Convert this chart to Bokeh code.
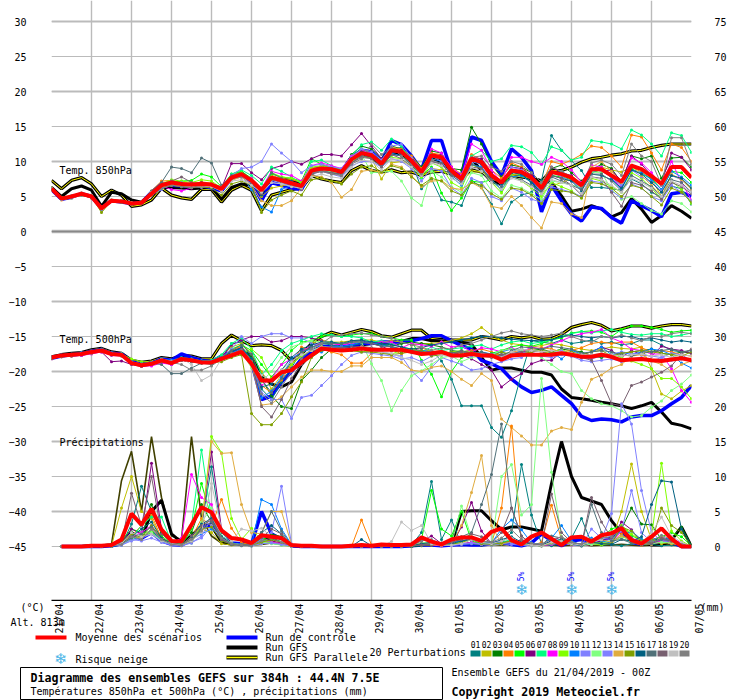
from math import pi
from bokeh.plotting import figure
from bokeh.models import Range1d, LinearAxis, FixedTicker, Label
from bokeh.core.properties import value
from bokeh.embed import file_html
from bokeh.resources import INLINE

dates = ["21/04","22/04","23/04","24/04","25/04","26/04","27/04","28/04","29/04","30/04","01/05","02/05","03/05","04/05","05/05","06/05","07/05"]
colors = ["#008080","#BFBF00","#008000","#FF8000","#00FF00","#800080","#00FF80","#FF00FF","#80FF00","#0080FF",
          "#8080FF","#80FF80","#8080FF","#E0AC40","#80A000","#006080","#507078","#786070","#C0C0C0","#808080"]

# 850 hPa, tenths of a degree, one value per 6 h
t_mean = [61,47,50,54,50,33,44,43,40,41,54,66,70,68,67,68,67,61,77,82,73,59,77,73,69,65,87,90,89,85,103,112,109,97,116,114,101,85,109,106,87,75,104,99,80,70,87,85,77,62,85,82,77,66,89,89,80,71,94,89,79,68,92,92,77]
t_ctrl = [60,46,49,54,50,33,44,42,40,41,56,68,66,65,64,66,62,58,76,84,70,44,70,66,62,60,88,92,90,86,106,116,114,100,130,124,108,88,130,130,85,80,135,130,100,80,118,106,87,28,66,44,25,15,35,33,20,12,44,37,30,21,54,56,50]
t_gfs = [63,50,61,65,59,36,56,54,45,42,54,63,63,62,61,62,63,46,63,68,66,52,75,75,73,68,87,92,90,86,102,110,106,95,112,110,98,84,105,100,85,78,104,87,71,68,87,85,75,73,70,51,29,32,37,32,21,27,47,32,13,23,37,29,19]
t_para = [73,61,73,77,68,50,59,52,36,38,45,62,52,48,46,60,60,42,59,66,59,30,52,56,60,62,80,75,72,70,87,94,87,85,88,84,85,80,85,86,82,78,88,85,75,70,80,78,76,72,87,87,92,99,104,106,109,111,115,116,120,123,125,125,125]
t_perts = [
 [60,46,49,53,49,32,43,42,39,41,55,68,72,70,66,69,68,62,80,85,74,57,76,72,68,62,86,93,88,84,102,115,112,100,118,120,100,61,75,45,42,37,73,63,39,11,42,52,56,73,137,116,101,87,63,63,61,59,75,68,56,49,65,61,39],
 [62,48,50,55,51,31,45,44,40,40,56,65,68,67,66,67,66,58,75,80,72,50,62,65,68,66,85,88,85,82,100,108,105,75,98,100,95,78,90,88,90,72,85,85,78,72,82,80,75,55,65,70,75,70,90,92,88,85,92,85,75,50,80,75,62],
 [61,47,50,54,50,33,44,43,41,42,53,67,71,69,68,70,67,60,78,84,75,56,78,70,70,66,88,92,92,88,110,122,118,104,122,118,108,92,115,112,90,88,149,125,95,78,95,92,84,70,90,95,84,72,88,96,90,70,108,104,108,76,105,106,92],
 [60,45,48,52,48,32,44,43,40,42,58,72,73,70,68,71,69,62,80,84,72,62,80,76,74,70,90,94,92,88,106,116,112,96,120,118,108,90,112,110,92,82,110,102,88,76,98,92,80,66,100,96,102,110,122,120,108,92,138,135,112,88,125,120,100],
 [61,47,51,54,50,35,44,44,41,41,56,66,69,72,73,82,78,64,82,86,76,62,82,78,76,72,104,96,92,88,108,118,112,100,118,112,95,80,92,55,30,48,72,70,74,58,86,80,70,54,80,78,74,62,84,88,78,66,90,82,76,60,86,84,70],
 [62,48,51,55,50,34,45,43,40,42,56,68,71,69,67,70,68,62,97,97,84,74,90,94,100,96,104,110,110,108,124,140,122,104,118,116,104,84,106,110,92,72,106,104,84,68,92,90,80,64,92,84,80,64,90,86,88,72,108,96,80,70,112,106,88],
 [60,46,50,53,49,33,44,42,40,42,54,64,68,66,66,66,68,62,82,88,80,68,92,86,78,68,100,102,94,88,108,124,128,116,132,122,100,76,110,108,88,72,108,116,100,104,123,121,113,96,121,116,102,106,130,128,125,118,145,138,125,108,141,137,113],
 [60,47,49,53,50,34,43,43,39,40,54,65,60,58,62,67,66,60,76,80,76,62,86,82,80,72,94,98,94,90,108,116,112,98,114,112,100,84,118,112,92,80,125,116,88,70,106,106,100,96,106,100,88,70,95,92,76,64,105,98,84,66,100,70,45],
 [61,46,48,52,49,32,43,44,41,42,56,68,74,72,70,74,72,62,80,84,74,60,84,78,76,70,92,94,90,85,104,112,108,92,106,104,92,78,98,92,70,62,95,90,70,55,80,72,62,50,70,64,58,48,76,72,64,56,84,76,62,46,72,60,40],
 [62,47,50,54,50,33,44,44,40,40,55,66,70,68,66,67,66,58,78,80,60,35,28,60,66,62,84,88,84,82,102,112,108,96,112,108,96,82,104,100,78,66,96,92,74,60,78,80,70,58,82,86,76,60,84,90,76,60,88,84,74,60,86,78,66],
 [60,46,49,53,49,32,44,43,40,41,53,62,72,68,66,68,66,62,80,90,92,100,125,112,100,84,94,96,92,90,106,118,114,102,122,125,105,88,108,100,80,70,100,96,80,66,92,88,76,54,85,78,72,62,92,86,78,66,88,78,70,58,80,74,60],
 [59,46,48,52,49,33,43,42,39,41,56,66,69,66,66,66,65,60,76,82,72,58,78,74,70,66,86,88,85,84,100,110,84,85,86,72,48,37,86,78,64,56,84,80,58,48,66,62,54,46,72,70,66,64,85,84,60,46,50,40,30,25,44,40,28],
 [61,46,48,52,49,31,44,43,40,41,52,60,68,70,64,63,64,60,74,78,68,54,70,68,66,60,82,86,82,78,94,100,100,92,104,100,90,72,90,86,62,52,76,70,50,44,62,56,46,42,64,60,56,50,72,70,58,48,68,62,50,44,66,56,44],
 [61,47,50,53,50,33,45,44,41,41,52,64,66,65,63,66,64,58,73,78,66,44,37,37,44,62,80,78,70,49,60,86,88,84,96,92,80,64,72,73,62,60,70,62,36,33,50,37,20,5,42,40,25,20,92,100,86,70,95,80,66,50,82,74,60],
 [63,49,50,54,50,27,44,43,39,40,52,62,66,64,63,64,62,52,68,72,66,27,45,52,58,52,74,76,72,68,82,92,94,85,94,90,78,66,76,72,58,52,70,66,54,46,62,60,52,40,60,58,56,48,70,68,62,50,66,62,50,38,62,56,42],
 [61,47,50,54,50,34,44,43,40,41,55,66,70,69,67,68,66,60,76,82,70,52,76,74,72,66,86,90,90,86,104,114,110,98,114,112,100,86,108,104,84,74,102,96,78,68,84,82,70,56,80,76,72,58,82,80,74,62,88,82,70,56,80,76,62],
 [60,47,49,52,48,33,43,44,40,42,58,70,92,90,84,105,98,66,80,82,74,60,84,76,70,62,84,86,84,82,98,108,106,94,110,108,94,82,100,98,80,70,96,90,72,64,78,74,66,56,78,72,66,60,82,82,72,58,80,72,64,50,74,70,56],
 [61,47,50,53,49,32,44,42,39,40,54,64,72,78,70,68,64,58,76,80,70,54,74,70,66,60,82,86,84,80,98,106,104,92,110,104,92,80,100,96,82,72,92,90,74,72,86,84,74,60,80,76,66,52,78,76,56,36,70,66,58,46,70,64,54],
 [62,48,51,55,51,34,45,44,41,42,56,64,68,66,64,65,64,58,72,74,66,56,70,68,64,62,78,82,78,76,92,102,100,88,104,102,92,80,98,94,76,68,92,86,70,60,76,72,64,54,74,70,66,54,78,74,66,56,76,70,62,50,72,66,56],
 [61,47,50,54,51,34,44,43,40,41,54,62,66,64,63,66,68,64,76,78,72,60,74,72,68,64,84,86,82,80,96,104,125,110,120,108,96,82,102,106,86,78,106,108,92,86,100,96,84,70,92,86,78,64,98,102,96,80,125,108,100,66,134,134,96],
]

# 500 hPa, tenths of a degree
m_mean = [-180,-177,-176,-175,-172,-170,-175,-176,-188,-191,-189,-184,-188,-182,-184,-187,-187,-182,-177,-172,-189,-213,-213,-201,-198,-187,-177,-167,-169,-170,-169,-167,-169,-169,-169,-169,-172,-175,-174,-172,-177,-177,-175,-177,-177,-183,-177,-176,-176,-176,-176,-174,-176,-179,-179,-176,-179,-184,-183,-182,-184,-185,-183,-181,-184]
m_ctrl = [-181,-178,-176,-175,-171,-169,-174,-175,-186,-190,-188,-182,-184,-175,-180,-184,-186,-178,-172,-168,-186,-240,-235,-215,-200,-182,-172,-164,-165,-165,-163,-160,-160,-158,-158,-158,-156,-153,-149,-149,-156,-163,-168,-184,-189,-196,-211,-222,-230,-227,-222,-234,-246,-264,-270,-268,-269,-272,-265,-263,-263,-256,-246,-237,-220]
m_gfs = [-180,-177,-175,-174,-171,-169,-174,-176,-187,-190,-188,-183,-186,-181,-183,-186,-186,-180,-175,-170,-178,-205,-218,-222,-215,-190,-174,-165,-166,-166,-164,-162,-160,-160,-158,-157,-153,-153,-156,-156,-157,-158,-161,-180,-198,-195,-195,-198,-201,-201,-205,-225,-237,-239,-241,-244,-246,-249,-253,-249,-244,-258,-274,-277,-282]
m_para = [-179,-176,-174,-173,-169,-167,-172,-174,-184,-187,-185,-180,-182,-177,-178,-182,-182,-160,-148,-156,-163,-162,-163,-170,-185,-175,-160,-150,-144,-148,-144,-140,-143,-149,-151,-146,-141,-141,-153,-151,-155,-155,-155,-150,-152,-155,-150,-152,-150,-154,-153,-147,-137,-133,-130,-134,-142,-139,-135,-135,-138,-135,-133,-133,-135]
m_perts = [
 [-180,-178,-176,-174,-172,-171,-175,-174,-186,-190,-190,-183,-186,-181,-183,-186,-188,-180,-160,-158,-180,-225,-240,-215,-195,-170,-165,-160,-162,-165,-163,-160,-158,-162,-160,-165,-170,-172,-170,-185,-211,-249,-249,-249,-280,-294,-256,-203,-156,-158,-160,-155,-160,-158,-155,-160,-158,-162,-160,-155,-155,-162,-170,-172,-170],
 [-181,-177,-176,-175,-172,-171,-174,-176,-187,-189,-188,-184,-186,-182,-184,-186,-186,-178,-165,-160,-175,-200,-225,-205,-190,-175,-160,-155,-158,-158,-156,-155,-155,-158,-156,-158,-162,-160,-160,-158,-156,-152,-146,-137,-148,-155,-160,-162,-165,-163,-160,-162,-165,-168,-170,-168,-165,-167,-168,-165,-196,-232,-239,-228,-220],
 [-180,-178,-177,-175,-172,-170,-176,-177,-188,-190,-188,-183,-185,-182,-183,-186,-185,-180,-172,-165,-180,-210,-235,-250,-253,-213,-198,-180,-168,-162,-158,-158,-160,-162,-164,-160,-158,-160,-162,-165,-170,-172,-170,-176,-174,-176,-172,-168,-170,-168,-172,-168,-170,-172,-178,-180,-176,-174,-172,-170,-168,-174,-176,-172,-174],
 [-179,-177,-176,-174,-171,-169,-175,-176,-187,-190,-189,-183,-185,-183,-184,-185,-186,-181,-170,-164,-185,-220,-230,-212,-190,-165,-170,-168,-172,-176,-188,-188,-174,-170,-168,-175,-168,-166,-172,-170,-174,-172,-170,-168,-172,-178,-172,-170,-168,-166,-168,-172,-170,-166,-160,-158,-160,-158,-158,-166,-172,-170,-172,-176,-178],
 [-181,-178,-177,-176,-172,-170,-175,-177,-186,-192,-188,-182,-187,-180,-182,-185,-186,-181,-168,-162,-170,-190,-208,-190,-170,-158,-156,-150,-148,-150,-148,-146,-146,-150,-152,-155,-155,-184,-204,-236,-200,-180,-175,-176,-174,-170,-165,-162,-164,-160,-155,-152,-145,-143,-142,-144,-150,-140,-135,-135,-137,-140,-144,-142,-141],
 [-182,-179,-178,-177,-174,-172,-186,-185,-190,-193,-191,-186,-190,-184,-186,-188,-188,-180,-162,-155,-150,-150,-158,-156,-150,-150,-152,-156,-160,-162,-158,-156,-160,-164,-170,-172,-168,-170,-172,-175,-172,-176,-182,-190,-198,-222,-211,-203,-189,-184,-184,-172,-178,-176,-172,-165,-170,-180,-170,-176,-178,-164,-168,-170,-174],
 [-180,-178,-176,-175,-172,-169,-175,-175,-186,-191,-188,-182,-186,-181,-182,-185,-184,-176,-160,-152,-168,-205,-190,-170,-160,-155,-150,-146,-148,-150,-150,-152,-158,-156,-160,-165,-168,-172,-165,-170,-168,-166,-164,-162,-168,-162,-158,-156,-160,-158,-155,-150,-146,-143,-145,-142,-140,-144,-147,-148,-146,-146,-150,-148,-145],
 [-181,-179,-178,-177,-175,-172,-177,-178,-189,-192,-192,-188,-190,-184,-186,-187,-188,-182,-176,-170,-190,-220,-210,-190,-182,-172,-162,-160,-160,-162,-160,-158,-160,-158,-158,-166,-160,-162,-164,-158,-165,-163,-172,-166,-168,-172,-166,-172,-165,-168,-162,-156,-150,-146,-144,-140,-152,-158,-168,-170,-175,-175,-196,-227,-244],
 [-180,-177,-177,-175,-172,-170,-174,-175,-182,-186,-187,-183,-185,-181,-183,-186,-186,-182,-178,-174,-168,-180,-210,-200,-190,-178,-170,-164,-166,-168,-170,-172,-170,-172,-175,-170,-168,-172,-170,-174,-172,-170,-175,-172,-178,-180,-176,-172,-170,-172,-174,-168,-176,-180,-178,-176,-175,-180,-185,-190,-196,-210,-210,-222,-239],
 [-179,-176,-175,-173,-171,-168,-173,-175,-186,-189,-187,-182,-184,-180,-182,-185,-185,-180,-172,-166,-182,-238,-228,-208,-182,-172,-168,-172,-165,-164,-162,-158,-158,-162,-165,-168,-172,-170,-172,-175,-172,-178,-176,-172,-175,-172,-168,-172,-176,-178,-172,-182,-170,-175,-172,-165,-176,-172,-176,-172,-168,-170,-176,-188,-195],
 [-180,-178,-176,-175,-172,-170,-174,-176,-187,-190,-188,-183,-185,-182,-183,-187,-188,-180,-168,-150,-160,-150,-146,-146,-152,-152,-160,-165,-165,-166,-170,-168,-170,-172,-176,-178,-199,-213,-194,-180,-185,-190,-198,-196,-190,-186,-182,-180,-172,-178,-180,-176,-178,-184,-186,-184,-182,-186,-182,-180,-185,-180,-184,-182,-185],
 [-181,-178,-177,-175,-172,-170,-175,-176,-188,-190,-189,-184,-186,-182,-185,-187,-187,-183,-178,-172,-195,-215,-200,-180,-165,-160,-156,-158,-158,-160,-158,-158,-189,-213,-256,-227,-206,-199,-190,-180,-178,-186,-180,-178,-176,-170,-168,-170,-174,-180,-190,-200,-203,-227,-239,-246,-249,-256,-265,-263,-251,-242,-227,-218,-205],
 [-180,-177,-176,-174,-172,-170,-176,-176,-187,-191,-188,-183,-186,-183,-184,-187,-186,-182,-174,-168,-186,-230,-240,-240,-267,-237,-234,-220,-206,-190,-177,-172,-174,-176,-178,-182,-180,-186,-178,-172,-180,-176,-178,-174,-176,-178,-175,-172,-175,-178,-174,-170,-176,-180,-182,-178,-176,-172,-174,-176,-178,-180,-174,-176,-185],
 [-180,-178,-176,-175,-173,-170,-175,-177,-188,-191,-189,-184,-187,-183,-185,-187,-187,-182,-175,-170,-190,-248,-246,-236,-222,-208,-198,-198,-200,-200,-192,-192,-180,-180,-180,-187,-198,-200,-194,-192,-200,-211,-220,-203,-213,-268,-280,-292,-305,-305,-285,-280,-283,-244,-211,-205,-195,-190,-178,-176,-185,-190,-200,-190,-185],
 [-181,-179,-178,-176,-174,-171,-176,-178,-189,-192,-190,-185,-188,-184,-186,-188,-188,-186,-180,-176,-260,-276,-276,-260,-236,-215,-180,-170,-168,-168,-170,-172,-172,-174,-176,-174,-172,-170,-178,-176,-172,-174,-172,-176,-178,-172,-176,-175,-172,-170,-172,-174,-172,-176,-172,-170,-178,-174,-172,-170,-172,-174,-176,-178,-172],
 [-180,-178,-177,-175,-172,-170,-175,-176,-188,-190,-188,-184,-186,-182,-184,-186,-187,-181,-172,-166,-182,-222,-218,-198,-180,-168,-162,-158,-158,-160,-156,-155,-158,-160,-162,-165,-168,-166,-162,-160,-158,-155,-152,-150,-150,-152,-154,-155,-156,-155,-155,-150,-148,-150,-152,-150,-152,-150,-150,-154,-152,-155,-158,-156,-158],
 [-180,-177,-176,-175,-173,-170,-176,-177,-187,-190,-188,-190,-203,-203,-195,-188,-190,-180,-170,-162,-175,-212,-230,-210,-185,-172,-166,-160,-160,-160,-158,-158,-160,-164,-164,-168,-170,-172,-175,-172,-174,-170,-174,-172,-176,-180,-170,-165,-166,-168,-164,-166,-168,-174,-172,-170,-172,-176,-178,-174,-172,-170,-168,-172,-170],
 [-181,-178,-177,-176,-173,-171,-176,-176,-188,-191,-190,-186,-189,-184,-186,-188,-188,-182,-175,-168,-185,-250,-265,-240,-210,-190,-178,-166,-165,-166,-165,-164,-166,-168,-170,-168,-172,-174,-176,-174,-176,-172,-175,-178,-180,-176,-174,-172,-170,-172,-176,-174,-176,-180,-184,-213,-246,-249,-220,-215,-208,-201,-192,-175,-168],
 [-180,-177,-176,-174,-172,-170,-175,-175,-187,-190,-188,-183,-186,-181,-190,-213,-205,-182,-176,-172,-188,-205,-214,-198,-186,-176,-170,-165,-168,-170,-168,-165,-168,-172,-174,-180,-184,-190,-185,-176,-180,-178,-174,-176,-178,-180,-172,-168,-170,-172,-170,-172,-174,-176,-176,-174,-176,-178,-176,-175,-178,-176,-180,-176,-178],
 [-180,-178,-176,-175,-172,-170,-175,-176,-188,-191,-189,-184,-187,-190,-198,-198,-192,-182,-174,-170,-186,-232,-245,-222,-200,-182,-168,-160,-150,-148,-146,-145,-148,-150,-152,-158,-162,-165,-170,-166,-168,-162,-160,-155,-150,-145,-142,-146,-148,-150,-148,-145,-150,-155,-158,-150,-152,-148,-152,-156,-150,-150,-146,-144,-146],
]

# precipitation, tenths of a mm, first value 6 h after the start
r_mean = [0,0,0,1,1,2,10,47,31,54,24,8,7,31,56,49,23,12,10,5,16,14,12,2,1,1,0,0,0,1,2,1,3,2,2,3,13,7,3,10,13,13,8,21,26,9,3,14,20,11,2,13,14,7,16,19,26,9,4,14,26,11,0,0]
r_ctrl = [0,0,0,0,0,1,4,18,12,20,8,3,2,10,28,32,12,5,4,3,50,18,10,1,0,0,0,0,0,0,0,0,0,0,0,1,2,2,1,2,3,2,2,4,6,3,1,5,18,8,1,8,10,4,10,12,25,6,3,8,12,6,0,0]
r_gfs = [0,0,0,1,1,2,8,20,10,50,66,18,6,15,30,30,6,3,4,2,10,12,8,1,0,0,0,0,0,0,0,0,0,0,1,1,2,3,2,2,50,51,51,37,24,28,28,25,22,90,150,100,70,65,60,37,19,9,7,2,2,9,28,0]
r_para = [0,1,1,2,2,3,94,136,50,157,70,15,10,157,40,15,5,3,2,2,3,5,3,1,0,0,0,0,0,0,0,0,0,0,1,1,2,3,2,2,2,3,2,3,2,3,2,2,3,2,1,2,3,1,2,2,3,2,1,2,4,2,1,0]
r_perts = [
 [0,0,0,0,0,0,2,32,86,50,18,8,3,5,30,114,20,5,2,1,5,10,8,2,0,0,0,0,0,0,1,0,1,1,1,2,20,93,10,38,3,4,8,6,5,20,117,45,4,1,5,12,40,5,2,3,1,4,10,3,1,2,3,1],
 [0,0,0,1,1,1,55,100,50,40,10,4,2,10,25,20,4,2,1,1,4,6,3,0,0,0,0,0,0,0,0,0,0,0,0,1,2,3,2,2,4,6,5,3,4,6,8,3,2,5,7,2,1,4,5,8,50,118,50,10,4,6,5,1],
 [0,0,0,0,0,1,6,20,14,60,20,6,3,20,60,35,10,4,2,1,8,18,14,2,0,0,0,0,0,0,0,0,0,0,0,0,1,2,4,6,10,4,2,3,4,8,6,2,1,4,6,3,1,3,4,6,25,55,32,31,10,12,28,2],
 [0,0,0,0,1,1,5,15,30,45,12,5,2,12,40,30,67,26,5,3,10,8,3,1,0,0,0,0,0,0,38,2,0,0,0,1,3,2,1,3,10,14,8,4,55,172,5,1,6,59,10,3,2,8,3,4,18,6,2,5,8,4,2,0],
 [0,0,0,0,0,1,8,25,20,21,15,4,2,25,90,40,12,4,3,3,10,15,7,1,0,0,0,0,0,0,0,0,0,0,0,1,10,80,25,15,50,8,3,2,5,8,4,2,1,6,10,4,1,6,12,25,30,15,10,8,14,20,14,1],
 [0,0,0,0,0,1,4,25,18,119,25,6,2,15,28,135,25,5,2,1,6,8,5,1,0,0,0,0,0,0,0,0,0,0,1,2,8,15,4,2,28,63,22,4,8,5,10,3,1,8,14,4,2,5,8,12,35,24,6,4,10,6,3,0],
 [0,0,0,0,0,1,5,12,30,42,42,6,4,30,138,40,12,5,3,2,10,6,3,1,0,0,0,0,0,0,0,0,0,0,0,1,2,4,2,2,8,10,4,3,6,10,6,2,1,5,8,3,2,5,6,8,14,10,5,6,10,8,4,0],
 [0,0,0,0,0,1,4,14,20,30,10,5,12,103,70,60,12,4,3,2,8,6,4,1,0,0,0,0,0,0,0,0,0,0,0,1,2,3,1,2,4,6,3,2,5,6,4,2,1,3,6,2,1,3,4,5,22,12,6,4,8,12,5,0],
 [0,0,0,0,0,1,3,10,15,20,10,3,2,8,30,157,134,40,10,26,8,5,2,0,0,0,0,0,0,0,0,0,0,0,0,1,4,6,3,2,6,10,5,2,4,7,3,1,2,4,6,3,1,4,2,5,30,18,8,14,119,22,8,0],
 [0,0,0,0,0,1,3,12,10,25,8,3,2,10,18,25,15,5,3,2,67,60,25,3,0,0,0,0,0,0,0,0,0,0,0,1,3,5,4,6,8,12,6,5,25,38,24,5,3,12,30,8,2,12,8,5,15,22,10,5,12,10,4,0],
 [0,0,0,0,0,1,2,8,12,18,6,3,1,6,12,30,10,3,2,1,10,20,86,4,0,0,0,0,0,0,0,0,0,1,2,2,3,6,3,2,4,5,4,2,6,5,3,2,3,6,8,4,2,5,10,47,204,175,80,20,8,6,5,0],
 [0,0,0,0,0,1,3,10,18,20,8,4,2,10,35,55,15,5,2,1,6,4,2,1,0,0,0,0,0,0,0,0,0,0,1,2,5,8,3,4,58,12,5,3,100,117,45,60,240,106,14,5,2,3,5,8,12,6,3,4,6,5,2,0],
 [0,0,0,0,0,1,2,10,8,12,6,2,1,5,15,40,10,3,1,1,4,5,3,0,0,0,0,0,0,0,0,0,2,3,3,2,3,5,2,1,3,4,3,2,4,3,2,1,2,4,6,2,1,25,12,10,22,80,20,6,10,8,3,0],
 [0,0,0,0,0,1,4,16,12,25,10,4,2,12,30,150,133,134,60,20,18,50,50,3,1,0,0,0,0,0,0,0,0,0,1,2,4,3,2,3,30,77,130,30,4,8,5,3,2,6,8,4,2,8,10,6,15,8,5,3,14,6,3,0],
 [0,0,0,0,0,1,6,18,14,30,12,4,2,8,25,28,8,3,2,2,6,10,6,1,0,0,0,0,0,0,0,0,0,0,0,1,3,4,2,3,6,10,4,3,5,8,4,2,1,5,7,3,2,6,5,4,28,22,8,5,55,30,20,1],
 [0,0,0,0,0,1,4,14,25,35,12,4,2,14,32,40,14,4,2,2,20,30,18,2,0,0,0,0,0,0,10,1,0,0,0,1,4,6,3,4,8,10,6,4,10,14,6,3,2,8,10,4,1,6,4,3,10,8,14,60,94,92,25,1],
 [0,0,0,0,0,1,4,12,18,28,10,4,2,10,25,35,10,3,2,3,20,50,22,2,0,0,0,0,0,0,0,0,0,0,0,1,2,3,5,8,14,20,60,103,175,55,15,3,2,15,12,5,2,60,20,8,10,5,3,4,10,8,3,0],
 [0,0,0,0,0,1,5,76,30,100,18,5,2,15,30,38,10,4,2,2,12,25,18,2,0,0,0,0,0,0,0,0,0,0,0,1,2,4,5,6,10,18,14,5,20,55,15,3,2,75,20,6,3,70,35,12,28,12,6,5,12,8,4,0],
 [0,0,0,0,0,1,4,20,14,18,8,4,2,8,20,90,25,8,25,22,26,14,8,1,0,1,1,1,0,0,0,0,1,7,35,23,30,4,2,2,4,10,6,4,8,12,5,2,1,6,8,4,2,6,10,18,25,10,6,20,42,15,6,0],
 [0,0,0,0,0,1,3,14,10,25,10,3,2,10,22,45,12,4,2,2,8,12,6,1,0,0,0,0,0,0,0,0,0,0,0,1,8,10,4,8,14,12,8,6,12,24,10,5,3,10,14,6,3,10,12,14,24,10,5,8,16,10,3,0],
]

snow_idx = [47, 52, 56]
snow_pct = ["5%", "5%", "5%"]

GRID = "#BBBBBB"
FONT = "DejaVu Sans Mono"
STEP_PER_DAY = 4
Y_TOP, Y_BOT = 231 / 7, (231 - 600) / 7

p = figure(width=740, height=601, output_backend="svg", toolbar_location=None,
           x_range=Range1d(0, 64), y_range=Range1d(Y_BOT, Y_TOP),
           min_border_left=51, min_border_right=49, min_border_top=0, min_border_bottom=1,
           outline_line_color=None, background_fill_color="white")

ticks = list(range(-45, 31, 5))
day_ticks = [i * STEP_PER_DAY for i in range(len(dates))]
p.xaxis.ticker = FixedTicker(ticks=[])
p.xaxis.major_tick_line_color = None
p.xaxis.axis_line_color = "black"
p.xaxis.axis_line_width = 1.5
p.xgrid.ticker = FixedTicker(ticks=day_ticks)
p.xgrid.grid_line_color = GRID
p.xgrid.grid_line_width = 1.4
p.ygrid.ticker = FixedTicker(ticks=ticks)
p.ygrid.grid_line_color = GRID
p.ygrid.grid_line_width = 1

p.yaxis.ticker = FixedTicker(ticks=ticks)
p.yaxis.major_tick_line_color = None
p.yaxis.axis_line_color = None
p.yaxis.major_label_standoff = 19
p.yaxis.major_label_text_font = FONT
p.yaxis.major_label_text_font_size = "10px"
p.yaxis.major_label_text_color = "black"

p.extra_y_ranges = {"mm": Range1d(Y_BOT + 45, Y_TOP + 45)}
rax = LinearAxis(y_range_name="mm", ticker=FixedTicker(ticks=list(range(0, 76, 5))))
rax.major_tick_line_color = None
rax.axis_line_color = None
rax.major_label_standoff = 17
rax.major_label_text_font = FONT
rax.major_label_text_font_size = "10px"
rax.major_label_text_color = "black"
p.add_layout(rax, "right")

p.hspan(y=[v for v in ticks if v % 10 == 0 and v != 0], line_color=GRID, line_width=2)
p.hspan(y=[0], line_color=GRID, line_width=3.5)
p.hspan(y=[0], line_color="#888888", line_width=1.5)

def draw(perts, para, gfs, ctrl, mean, start, conv, thin_para=False):
    xs = list(range(start, start + len(mean)))
    if thin_para:
        p.line(xs[:len(para)], [conv(v) for v in para], line_color="#404000", line_width=1.6)
    else:
        p.line(xs[:len(para)], [conv(v) for v in para], line_color="black", line_width=3.2)
        p.line(xs[:len(para)], [conv(v) for v in para], line_color="#FFFF00", line_width=1)
    p.line(xs[:len(gfs)], [conv(v) for v in gfs], line_color="black", line_width=3)
    p.line(xs[:len(ctrl)], [conv(v) for v in ctrl], line_color="#0000FF", line_width=3.5)
    for vals, col in zip(perts, colors):
        vx = list(range(start, start + len(vals)))
        ys = [conv(v) for v in vals]
        p.line(vx, ys, line_color=col, line_width=1)
        p.scatter(vx, ys, size=3, marker="circle", fill_color=col, line_color=None)
    p.line(xs, [conv(v) for v in mean], line_color="#FF0000", line_width=4)

draw(t_perts, t_para, t_gfs, t_ctrl, t_mean, 0, lambda v: v / 10)
draw(m_perts, m_para, m_gfs, m_ctrl, m_mean, 0, lambda v: v / 10)
draw(r_perts, r_para, r_gfs, r_ctrl, r_mean, 1, lambda v: v / 10 - 45, thin_para=True)

def lab(xpx, ypx, text):
    p.add_layout(Label(x=(xpx - 51) / 10, y=(231 - ypx) / 7, text=text, text_font=FONT,
                       text_font_size="10px", text_color="black", text_align="left",
                       text_baseline="middle"))

lab(59, 170, "Temp. 850hPa")
lab(59, 339, "Temp. 500hPa")
lab(59, 442, "Précipitations")

p.text(snow_idx, [(231 - 589) / 7] * 3, text=["\u2744"] * 3, text_font=value("DejaVu Sans"),
       text_font_size="15px", text_color="#4DB6E8", text_align="center", text_baseline="middle")
p.text(snow_idx, [(231 - 576) / 7] * 3, text=snow_pct, text_font=value(FONT),
       text_font_size="8px", text_color="#0000FF", text_align="center", text_baseline="middle", angle=pi / 2)

# strip under the axis line, addressed in page pixels
q = figure(width=740, height=99, output_backend="svg", toolbar_location=None,
           x_range=Range1d(0, 740), y_range=Range1d(700, 601),
           min_border=0, outline_line_color=None)
q.axis.visible = False
q.grid.visible = False

def qt(x, y, s, size=10, bold=False, align="left", angle=0):
    q.text([x], [y], text=[s], text_font=value(FONT), text_font_size=f"{size}px",
           text_font_style="bold" if bold else "normal", text_align=align,
           text_baseline="middle", text_color="black", angle=angle)

qt(20, 607, "(°C)")
qt(700, 607, "(mm)")
for d, txt in zip(day_ticks, dates):
    qt(51 + 10 * d + 7.5, 603, txt, align="right", angle=pi / 2)
qt(10, 622, "Alt. 813m")

q.line([35, 66], [637, 637], line_color="#FF0000", line_width=4)
qt(75, 637, "Moyenne des scénarios")
q.line([226, 257], [637, 637], line_color="#0000FF", line_width=4)
qt(265, 637, "Run de contrôle")
q.line([226, 257], [647, 647], line_color="black", line_width=4)
qt(265, 647, "Run GFS")
q.line([226, 257], [657, 657], line_color="black", line_width=4)
q.line([226, 257], [657, 657], line_color="#FFFF00", line_width=1.5)
qt(265, 657, "Run GFS Parallele")
q.text([60], [658], text=["\u2744"], text_font=value("DejaVu Sans"), text_font_size="15px",
       text_color="#4DB6E8", text_align="center", text_baseline="middle")
qt(75, 659, "Risque neige")
qt(369, 652, "20 Perturbations")
for i, c in enumerate(colors):
    x0 = 470 + 11 * i
    q.quad(left=[x0], right=[x0 + 10], top=[650], bottom=[656], fill_color=c, line_color=None)
    qt(x0 + 5, 644, f"{i + 1:02d}", size=8, align="center")
q.quad(left=[20], right=[442], top=[667], bottom=[699], fill_color=None, line_color="black", line_width=1)
qt(30, 677, "Diagramme des ensembles GEFS sur 384h : 44.4N 7.5E", size=11.6, bold=True)
qt(30, 691, "Températures 850hPa et 500hPa (°C) , précipitations (mm)")
qt(451, 672, "Ensemble GEFS du 21/04/2019 - 00Z")
qt(451, 691, "Copyright 2019 Meteociel.fr", size=11.6, bold=True)

open("out.html", "w").write(file_html([p, q], INLINE))
